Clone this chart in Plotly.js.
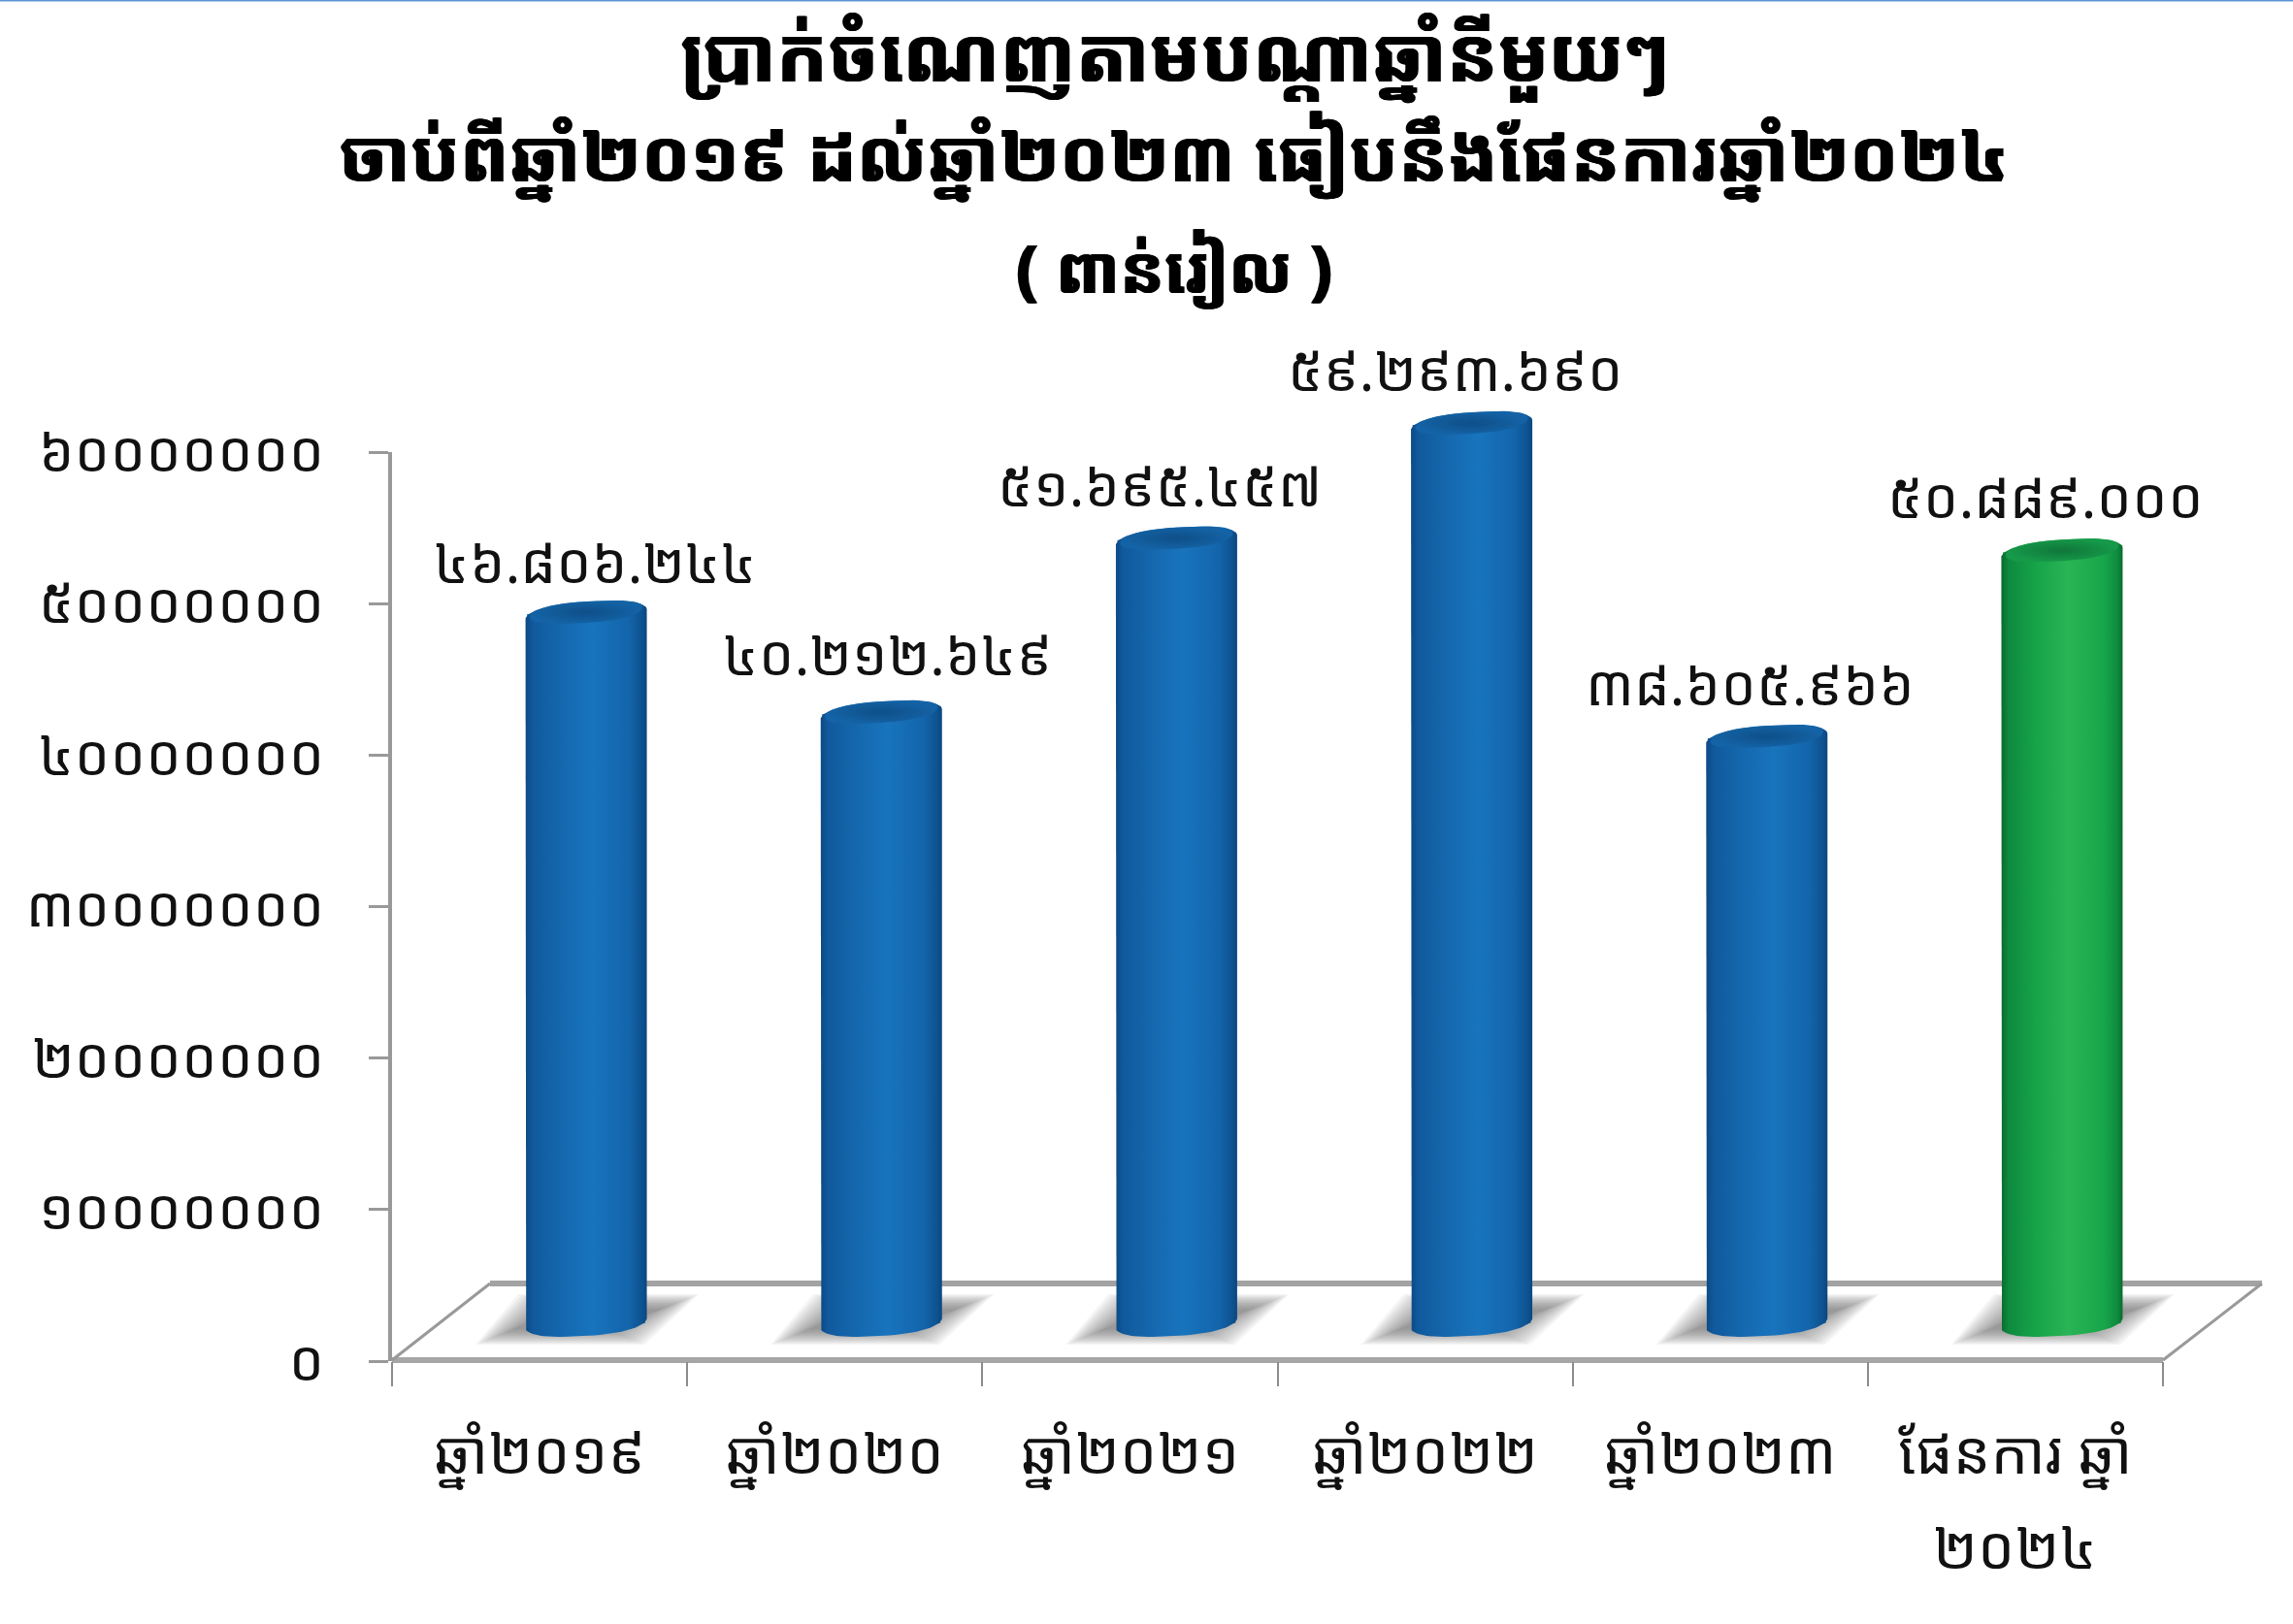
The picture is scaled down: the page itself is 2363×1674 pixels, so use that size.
<!DOCTYPE html>
<html><head><meta charset="utf-8">
<script src="https://cdn.plot.ly/plotly-3.0.1.min.js"></script>
<style>html,body{margin:0;padding:0;background:#fff}</style></head>
<body><div id="chart" style="width:2363px;height:1674px"></div>
<script>
const categories = ['ឆ្នាំ២០១៩','ឆ្នាំ២០២០','ឆ្នាំ២០២១','ឆ្នាំ២០២២','ឆ្នាំ២០២៣','ផែនការ ឆ្នាំ'];
const planYearLine = '២០២៤';
const profitValues = [46806244, 40212649, 51695457, 59293690, 38605966, 50889000];
const valueLabels = ['៤៦.៨០៦.២៤៤','៤០.២១២.៦៤៩','៥១.៦៩៥.៤៥៧','៥៩.២៩៣.៦៩០','៣៨.៦០៥.៩៦៦','៥០.៨៨៩.០០០'];
const yTickValues = [0,10000000,20000000,30000000,40000000,50000000,60000000];
const yTickLabels = ['០','១០០០០០០០','២០០០០០០០','៣០០០០០០០','៤០០០០០០០','៥០០០០០០០','៦០០០០០០០'];
const titleLines = ['ប្រាក់ចំណេញតាមបណ្តាឆ្នាំនីមួយៗ','ចាប់ពីឆ្នាំ២០១៩ ដល់ឆ្នាំ២០២៣ ធៀបនឹងផែនការឆ្នាំ២០២៤','( ពាន់រៀល )'];

const FONT = '"Noto Sans Khmer","Khmer OS","Noto Sans","DejaVu Sans",sans-serif';
const W=2363,H=1674,L=404,R=2331,T=330,B=1403;
const plotW=R-L, plotH=B-T;
const xPerPx=6/1825, yPerPx=60e6/937;
const baseY=1364, yMin=-(B-baseY)*yPerPx, yMax=(baseY-T)*yPerPx;
const px=x=>(x-L)/plotW, py=y=>(B-y)/plotH;
const blue=[[0,'#0c4a85'],[.06,'#10599c'],[.3,'#1568ae'],[.55,'#1874bd'],[.85,'#1365ab'],[.96,'#0e5290'],[1,'#0b4680']];
const green=[[0,'#0a6a30'],[.06,'#0e8a3e'],[.3,'#17a54a'],[.55,'#29b455'],[.85,'#17a54a'],[.96,'#0e8a3e'],[1,'#0a6a30']];

const spow=(c,e)=>Math.sign(c)*Math.pow(Math.abs(c),e);
function ellipse(i,val,a,b,dy,tilt){
  const xs=[],ys=[];
  for(let k=0;k<=60;k++){const t=k/60*2*Math.PI;
    xs.push(i+a*spow(Math.cos(t),.8)*xPerPx);
    ys.push(val+(-dy+b*spow(Math.sin(t),.9)+tilt*Math.cos(t))*yPerPx);}
  return {x:xs,y:ys};
}
function body(i,val,a,b,tilt){
  const xs=[],ys=[];
  for(let k=0;k<=40;k++){const t=Math.PI*k/40;
    xs.push(i+a*spow(Math.cos(t),.8)*xPerPx); ys.push(val+(b*Math.sin(t)+tilt*Math.cos(t))*yPerPx);}
  for(let k=0;k<=40;k++){const t=Math.PI+Math.PI*k/40;
    xs.push(i+a*spow(Math.cos(t),.8)*xPerPx); ys.push((b*Math.sin(t)+tilt*Math.cos(t))*yPerPx);}
  xs.push(xs[0]);ys.push(ys[0]);
  return {x:xs,y:ys};
}
const traces=[];
traces.push({type:'scatter',mode:'none',x:categories,y:profitValues,xaxis:'x',yaxis:'y',hoverinfo:'skip',showlegend:false});
traces.push({type:'bar',x:categories,y:profitValues,xaxis:'x2',yaxis:'y2',width:.4,showlegend:false,
  marker:{color:profitValues.map((v,i)=>i===5?'#17a54a':'#1464aa')},hoverinfo:'y'});
profitValues.forEach((v,i)=>{
  // soft floor shadow, built from nested translucent layers
  for(let g=-10;g<=30;g+=3){
    const cx=[-104+g,50-g,106-g,-60+g,-104+g].map(d=>i+d*xPerPx);
    const cy=[-18+g*.4,-18+g*.4,26-g*.4,26-g*.4,-18+g*.4].map(d=>d*yPerPx);
    traces.push({type:'scatter',mode:'lines',x:cx,y:cy,xaxis:'x3',yaxis:'y2',fill:'toself',fillcolor:'rgba(110,110,110,.075)',line:{width:0},hoverinfo:'skip',showlegend:false});
  }
});
profitValues.forEach((v,i)=>{
  const isPlan=i===5, cs=isPlan?green:blue;
  const rim=ellipse(i,v,36,12,1.5,5);
  traces.push({type:'scatter',mode:'lines',x:rim.x,y:rim.y,xaxis:'x3',yaxis:'y2',fill:'toself',line:{width:0},
    fillcolor:isPlan?'#a9c9b4':'#8fb3cf',hoverinfo:'skip',showlegend:false});
  const p=body(i,v,62.5,13,5);
  traces.push({type:'scatter',mode:'lines',x:p.x,y:p.y,xaxis:'x3',yaxis:'y2',fill:'toself',line:{width:0},
    fillgradient:{type:'horizontal',colorscale:cs},hoverinfo:'skip',showlegend:false});
  const cap=ellipse(i,v,58,11,-2,5);
  traces.push({type:'scatter',mode:'lines',x:cap.x,y:cap.y,xaxis:'x3',yaxis:'y2',fill:'toself',line:{width:0},
    fillgradient:{type:'radial',colorscale:isPlan?[[0,'#10763a'],[1,'#169a4a']]:[[0,'#0e4f88'],[1,'#1463a6']]},hoverinfo:'skip',showlegend:false});
  const hi=ellipse(i,v,26,3.5,-23,0);
  traces.push({type:'scatter',mode:'lines',x:hi.x,y:hi.y,xaxis:'x3',yaxis:'y2',fill:'toself',line:{width:0},
    fillcolor:'rgba(255,255,255,.09)',hoverinfo:'skip',showlegend:false});
});
const labelShiftX=[9,6,-17,-17,-17,-17];
const labelShiftY=[55,63,57,58,57,58];
const annotations=valueLabels.map((t,i)=>({xref:'x3',yref:'y2',x:i,y:profitValues[i],text:t,showarrow:false,
  xshift:labelShiftX[i],yshift:labelShiftY[i],xanchor:'center',yanchor:'middle',font:{family:FONT,size:58,color:'#111'}}));
const lineY=[54,158,276];
const titleSize=[78,75,68];
titleLines.forEach((t,i)=>annotations.push({xref:'paper',yref:'paper',x:px(1210),y:py(lineY[i]),text:'<b>'+t+'</b>',showarrow:false,
  xanchor:'center',yanchor:'middle',font:{family:FONT,size:titleSize[i],color:'#000',shadow:'1px 0 0 #000, -1px 0 0 #000'}}));
annotations.push({xref:'x',yref:'paper',x:categories[5],y:py(1593),text:planYearLine,showarrow:false,xanchor:'center',yanchor:'middle',
  font:{family:FONT,size:61,color:'#111'}});

const line=(x0,y0,x1,y1,w,c)=>({type:'line',xref:'paper',yref:'paper',x0:px(x0),y0:py(y0),x1:px(x1),y1:py(y1),layer:'below',line:{width:w,color:c}});
const shapes=[
  line(0,0.5,W,0.5,2,'#5b93d3'),
  line(505,1323,2331,1323,6,'#a3a3a3'),
  line(404,1402,2229,1402,6,'#a6a6a6'),
  line(404,1402,505,1323,3,'#999999'),
  line(2229,1402,2331,1323,3,'#999999'),
];
const layout={
  width:W,height:H,autosize:false,showlegend:false,paper_bgcolor:'#fff',plot_bgcolor:'rgba(0,0,0,0)',
  margin:{l:L,r:W-R,t:T,b:H-B,pad:0},barmode:'overlay',
  xaxis:{type:'category',categoryorder:'array',categoryarray:categories,domain:[0,(2229-L)/plotW],range:[-.5,5.5],anchor:'y',
    tickson:'boundaries',ticks:'outside',ticklen:25,tickwidth:2,tickcolor:'#8c8c8c',showline:false,showgrid:false,zeroline:false,
    tickangle:0,ticklabelstandoff:54,tickfont:{family:FONT,size:61,color:'#111'}},
  yaxis:{domain:[0,(B-466)/plotH],range:[0,60e6],anchor:'x',tickmode:'array',tickvals:yTickValues,ticktext:yTickLabels,ticks:'outside',ticklen:20,tickwidth:3,tickcolor:'#999',
    showline:true,linewidth:4,linecolor:'#999',showgrid:false,zeroline:false,ticklabelstandoff:34,tickfont:{family:FONT,size:58,color:'#111'}},
  xaxis2:{type:'category',categoryorder:'array',categoryarray:categories,domain:[48/plotW,(48+1825)/plotW],range:[-.5,5.5],anchor:'y2',visible:false},
  xaxis3:{type:'linear',domain:[48/plotW,(48+1825)/plotW],range:[-.5,5.5],anchor:'y2',visible:false},
  yaxis2:{domain:[0,1],range:[yMin,yMax],anchor:'x2',visible:false},
  shapes,annotations
};
Plotly.newPlot('chart',traces,layout,{displayModeBar:false,staticPlot:true});
</script></body></html>
